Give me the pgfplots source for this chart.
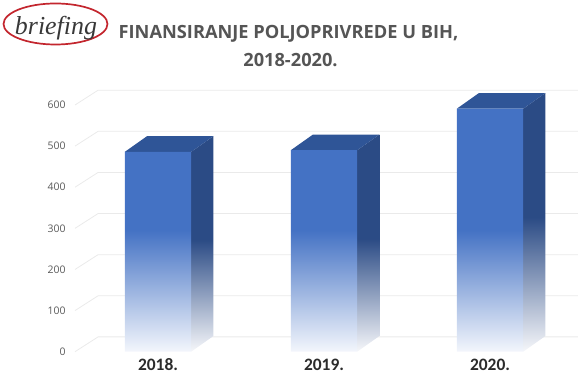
\documentclass[border=0pt]{standalone}
\usepackage{fontspec}
\setmainfont{Carlito}
\newfontfamily\logofont{Liberation Serif}
\newfontfamily\osfont{Open Sans}
\usepackage{pgfplots}
\pgfplotsset{compat=1.18}
\definecolor{barfront}{HTML}{4472C4}
\definecolor{bartop}{HTML}{2F5597}
\definecolor{barside}{HTML}{2B4B85}
\definecolor{gridc}{HTML}{EAEAEA}
\definecolor{ticktxt}{HTML}{595959}
\definecolor{titletxt}{HTML}{555555}
\definecolor{labtxt}{HTML}{2B2B2B}
\definecolor{fadefront}{HTML}{F3F6FC}
\definecolor{fadeside}{HTML}{F6F7FA}
\definecolor{logored}{HTML}{C3262E}
\pgfdeclareverticalshading{frontfade}{100bp}{color(0bp)=(fadefront); color(25bp)=(fadefront); color(50bp)=(barfront); color(75bp)=(barfront); color(100bp)=(barfront)}
\pgfdeclareverticalshading{sidefade}{100bp}{color(0bp)=(fadeside); color(25bp)=(fadeside); color(51bp)=(barside); color(75bp)=(barside); color(100bp)=(barside)}
\begin{document}
\begin{tikzpicture}
\path[use as bounding box] (0,0) rectangle (578bp,385bp);
% logo
\draw[logored, line width=1.7bp] (55.5bp,361bp) ellipse [x radius=52bp, y radius=20.5bp];
\node[anchor=base, inner sep=0pt, font=\logofont\itshape\fontsize{26}{26}\selectfont, text=black!78] at (56bp,350bp) {briefing};
% title
\node[anchor=base, inner sep=0pt, font=\osfont\fontsize{18.3}{19}\selectfont\bfseries, text=titletxt] at (288.5bp,346bp) {FINANSIRANJE POLJOPRIVREDE U BIH,};
\node[anchor=base, inner sep=0pt, font=\osfont\fontsize{18.3}{19}\selectfont\bfseries, text=titletxt] at (290.5bp,318bp) {2018-2020.};
\begin{axis}[
  at={(75bp,33.3bp)}, anchor=south west,
  scale only axis, width=498bp, height=246.7bp,
  xmin=0, xmax=3, ymin=0, ymax=600,
  clip=false,
  axis line style={draw=none},
  major tick length=0pt,
  ytick={0,100,...,600},
  xtick={0.5,1.5,2.5},
  xticklabels={2018.,2019.,2020.},
  /pgf/number format/assume math mode=true,
  yticklabel style={font=\osfont\fontsize{10.5}{12}\selectfont, text=ticktxt, anchor=east, xshift=-6bp},
  xticklabel style={font=\fontsize{17.5}{18}\selectfont\bfseries, text=labtxt, anchor=base, yshift=-18.3bp},
]
% grid: front-left diagonal and back horizontal lines
\addplot[gridc, line width=0.8pt, forget plot] coordinates {(0,0) (0.139,36) (3.3,36)};
\addplot[gridc, line width=0.8pt, forget plot] coordinates {(0,100) (0.139,136) (3.3,136)};
\addplot[gridc, line width=0.8pt, forget plot] coordinates {(0,200) (0.139,236) (3.3,236)};
\addplot[gridc, line width=0.8pt, forget plot] coordinates {(0,300) (0.139,336) (3.3,336)};
\addplot[gridc, line width=0.8pt, forget plot] coordinates {(0,400) (0.139,436) (3.3,436)};
\addplot[gridc, line width=0.8pt, forget plot] coordinates {(0,500) (0.139,536) (3.3,536)};
\addplot[gridc, line width=0.8pt, forget plot] coordinates {(0,600) (0.139,636) (3.3,636)};
% side faces
\addplot[draw=none, shading=sidefade, forget plot] coordinates {(0.7,0) (0.7,486) (0.833,524) (0.833,38)} -- cycle;
\addplot[draw=none, shading=sidefade, forget plot] coordinates {(1.7,0) (1.7,490) (1.833,528) (1.833,38)} -- cycle;
\addplot[draw=none, shading=sidefade, forget plot] coordinates {(2.7,0) (2.7,591) (2.833,629) (2.833,38)} -- cycle;
% top faces
\addplot[draw=none, fill=bartop, forget plot] coordinates {(0.3,486) (0.7,486) (0.833,524) (0.433,524)} -- cycle;
\addplot[draw=none, fill=bartop, forget plot] coordinates {(1.3,490) (1.7,490) (1.833,528) (1.433,528)} -- cycle;
\addplot[draw=none, fill=bartop, forget plot] coordinates {(2.3,591) (2.7,591) (2.833,629) (2.433,629)} -- cycle;
% front faces
\addplot[ybar, bar width=0.4, bar shift=0pt, draw=none, shading=frontfade] coordinates {(0.5,486) (1.5,490) (2.5,591)};
\end{axis}
\end{tikzpicture}
\end{document}
